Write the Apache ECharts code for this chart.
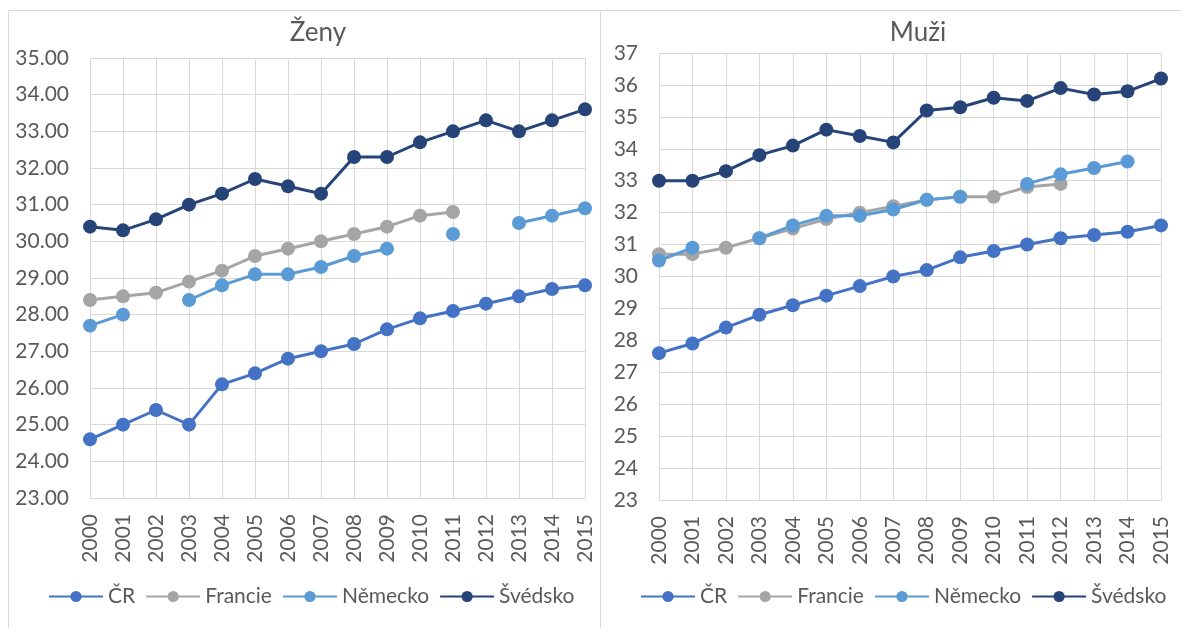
<!DOCTYPE html>
<html>
<head>
<meta charset="utf-8">
<script src="https://cdn.jsdelivr.net/npm/echarts@6/dist/echarts.min.js"></script>
<style>
html,body{margin:0;padding:0;background:#fff;}
#c{width:1181px;height:628px;}
</style>
</head>
<body>
<div id="c"></div>
<script>
var years = ['2000','2001','2002','2003','2004','2005','2006','2007','2008','2009','2010','2011','2012','2013','2014','2015'];
var seriesNames = ['ČR','Francie','Německo','Švédsko'];
var titles = ['Ženy','Muži'];

// Ženy
var zenyCR       = [24.6,25.0,25.4,25.0,26.1,26.4,26.8,27.0,27.2,27.6,27.9,28.1,28.3,28.5,28.7,28.8];
var zenyFrancie  = [28.4,28.5,28.6,28.9,29.2,29.6,29.8,30.0,30.2,30.4,30.7,30.8,null,null,null,null];
var zenyNemecko  = [27.7,28.0,null,28.4,28.8,29.1,29.1,29.3,29.6,29.8,null,30.2,null,30.5,30.7,30.9];
var zenySvedsko  = [30.4,30.3,30.6,31.0,31.3,31.7,31.5,31.3,32.3,32.3,32.7,33.0,33.3,33.0,33.3,33.6];

// Muži
var muziCR       = [27.6,27.9,28.4,28.8,29.1,29.4,29.7,30.0,30.2,30.6,30.8,31.0,31.2,31.3,31.4,31.6];
var muziFrancie  = [30.7,30.7,30.9,31.2,31.5,31.8,32.0,32.2,32.4,32.5,32.5,32.8,32.9,null,null,null];
var muziNemecko  = [30.5,30.9,null,31.2,31.6,31.9,31.9,32.1,32.4,32.5,null,32.9,33.2,33.4,33.6,null];
var muziSvedsko  = [33.0,33.0,33.3,33.8,34.1,34.6,34.4,34.2,35.2,35.3,35.6,35.5,35.9,35.7,35.8,36.2];

var zenyY = {min: 23, max: 35, interval: 1};
var muziY = {min: 23, max: 37, interval: 1};

var colors = ['#4472C4','#A5A5A5','#5B9BD5','#264478'];
var FONT = 'Lato, "Open Sans", sans-serif';
var TXT = '#595959';
var GRIDC = '#d9d9d9';

function mkSeries(name, data, idx, gi) {
  return {
    name: name, type: 'line', data: data,
    xAxisIndex: gi, yAxisIndex: gi,
    symbol: 'circle', symbolSize: 14, showSymbol: true,
    lineStyle: {width: 3, color: colors[idx]},
    itemStyle: {color: colors[idx]},
    emphasis: {disabled: true},
    connectNulls: false,
    animation: false
  };
}

function xAxis(gi) {
  return {
    type: 'category', gridIndex: gi, data: years, boundaryGap: false,
    axisLine: {show: true, lineStyle: {color: GRIDC, width: 1}},
    axisTick: {show: false},
    splitLine: {show: true, lineStyle: {color: GRIDC, width: 1}},
    axisLabel: {rotate: 90, color: TXT, fontFamily: FONT, fontSize: 21, margin: 16, interval: 0}
  };
}
function yAxis(gi, cfg, dec) {
  return {
    type: 'value', gridIndex: gi, min: cfg.min, max: cfg.max, interval: cfg.interval,
    axisLine: {show: false}, axisTick: {show: false},
    splitLine: {show: true, lineStyle: {color: GRIDC, width: 1}},
    axisLabel: {color: TXT, fontFamily: FONT, fontSize: 21, margin: 21,
      formatter: function (v) { return dec ? v.toFixed(2) : String(v); }}
  };
}

var chart = echarts.init(document.getElementById('c'), null, {renderer: 'canvas'});
var legendCommon = {
  data: seriesNames, itemWidth: 54, itemHeight: 14, itemGap: 10,
  textStyle: {color: TXT, fontFamily: FONT, fontSize: 21},
  selectedMode: false, orient: 'horizontal', width: 600
};
chart.setOption({
  animation: false,
  backgroundColor: '#fff',
  title: [
    {text: titles[0], left: 313, top: 15, textAlign: 'center', textStyle: {color: TXT, fontFamily: FONT, fontSize: 26, fontWeight: 'normal'}},
    {text: titles[1], left: 913, top: 15, textAlign: 'center', textStyle: {color: TXT, fontFamily: FONT, fontSize: 26, fontWeight: 'normal'}}
  ],
  legend: [
    Object.assign({left: 43, top: 581}, legendCommon),
    Object.assign({left: 635, top: 581}, legendCommon)
  ],
  grid: [
    {left: 90, top: 58, width: 495, height: 440},
    {left: 659, top: 53, width: 502, height: 447}
  ],
  xAxis: [xAxis(0), xAxis(1)],
  yAxis: [yAxis(0, zenyY, true), yAxis(1, muziY, false)],
  graphic: [
    {type: 'rect', shape: {x: 8.5, y: 10.5, width: 592, height: 640}, style: {fill: null, stroke: GRIDC, lineWidth: 1}, silent: true, z: -1},
    {type: 'rect', shape: {x: 600.5, y: 10.5, width: 600, height: 640}, style: {fill: null, stroke: GRIDC, lineWidth: 1}, silent: true, z: -1}
  ],
  series: [
    mkSeries(seriesNames[0], zenyCR, 0, 0),
    mkSeries(seriesNames[1], zenyFrancie, 1, 0),
    mkSeries(seriesNames[2], zenyNemecko, 2, 0),
    mkSeries(seriesNames[3], zenySvedsko, 3, 0),
    mkSeries(seriesNames[0], muziCR, 0, 1),
    mkSeries(seriesNames[1], muziFrancie, 1, 1),
    mkSeries(seriesNames[2], muziNemecko, 2, 1),
    mkSeries(seriesNames[3], muziSvedsko, 3, 1)
  ]
});
</script>
</body>
</html>
